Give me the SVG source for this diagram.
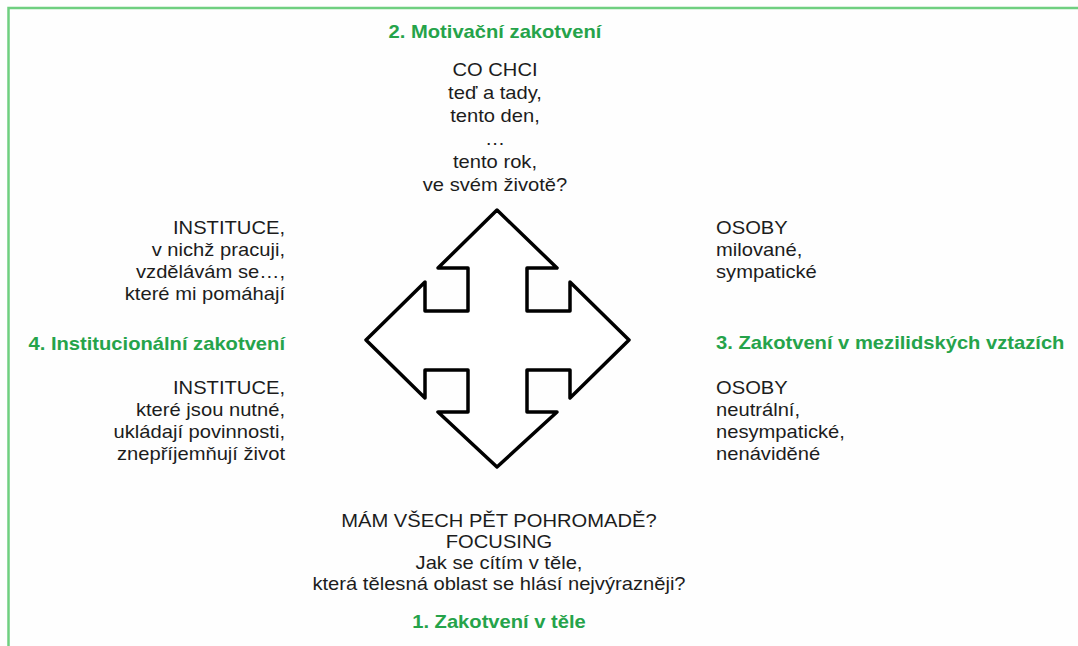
<svg xmlns="http://www.w3.org/2000/svg" width="1078" height="646" viewBox="0 0 1078 646">
<style>
.t{font-family:"Liberation Sans",Arial,sans-serif;font-size:18px;fill:#1c1c1c}
.g{font-family:"Liberation Sans",Arial,sans-serif;font-size:18px;font-weight:bold;fill:#25a34a}
.m{text-anchor:middle}
.e{text-anchor:end}
.s{text-anchor:start}
</style>
<rect x="0" y="0" width="1078" height="646" fill="#fefefe"/>
<path d="M8.5,646 V8 H1078" fill="none" stroke="#6fcf80" stroke-width="2.5"/>
<g id="connectors">
<polygon points="497,210 557,268 527,268 527,311 570,311 570,282 629,340 570,398 570,370 527,370 527,412 557,412 497,467 438,412 468,412 468,370 425,370 425,398 366,340 425,282 425,311 468,311 468,268 438,268" fill="#ffffff" stroke="#000" stroke-width="3.5" stroke-linejoin="round"/>
</g>
<g id="node-motivacni" transform="translate(495,0) scale(1.12,1)">
<text class="g m" x="0" y="38">2. Motivační zakotvení</text>
<text class="t m" x="0" y="76">CO CHCI</text>
<text class="t m" x="0" y="99">teď a tady,</text>
<text class="t m" x="0" y="122">tento den,</text>
<text class="t m" x="0" y="145">…</text>
<text class="t m" x="0" y="168">tento rok,</text>
<text class="t m" x="0" y="191">ve svém životě?</text>
</g>
<g id="node-institucionalni" transform="translate(285,0) scale(1.12,1)">
<text class="t e" x="0" y="234">INSTITUCE,</text>
<text class="t e" x="0" y="256">v nichž pracuji,</text>
<text class="t e" x="0" y="278">vzdělávám se…,</text>
<text class="t e" x="0" y="300">které mi pomáhají</text>
<text class="g e" x="0" y="350">4. Institucionální zakotvení</text>
<text class="t e" x="0" y="394">INSTITUCE,</text>
<text class="t e" x="0" y="416">které jsou nutné,</text>
<text class="t e" x="0" y="438">ukládají povinnosti,</text>
<text class="t e" x="0" y="460">znepříjemňují život</text>
</g>
<g id="node-mezilidske" transform="translate(716,0) scale(1.12,1)">
<text class="t s" x="0" y="234">OSOBY</text>
<text class="t s" x="0" y="256">milované,</text>
<text class="t s" x="0" y="278">sympatické</text>
<text class="g s" x="0" y="349">3. Zakotvení v mezilidských vztazích</text>
<text class="t s" x="0" y="394">OSOBY</text>
<text class="t s" x="0" y="416">neutrální,</text>
<text class="t s" x="0" y="438">nesympatické,</text>
<text class="t s" x="0" y="460">nenáviděné</text>
</g>
<g id="node-telo" transform="translate(499,0) scale(1.12,1)">
<text class="t m" x="0" y="527">MÁM VŠECH PĚT POHROMADĚ?</text>
<text class="t m" x="0" y="548">FOCUSING</text>
<text class="t m" x="0" y="569">Jak se cítím v těle,</text>
<text class="t m" x="0" y="590">která tělesná oblast se hlásí nejvýrazněji?</text>
<text class="g m" x="0" y="628">1. Zakotvení v těle</text>
</g>
</svg>
